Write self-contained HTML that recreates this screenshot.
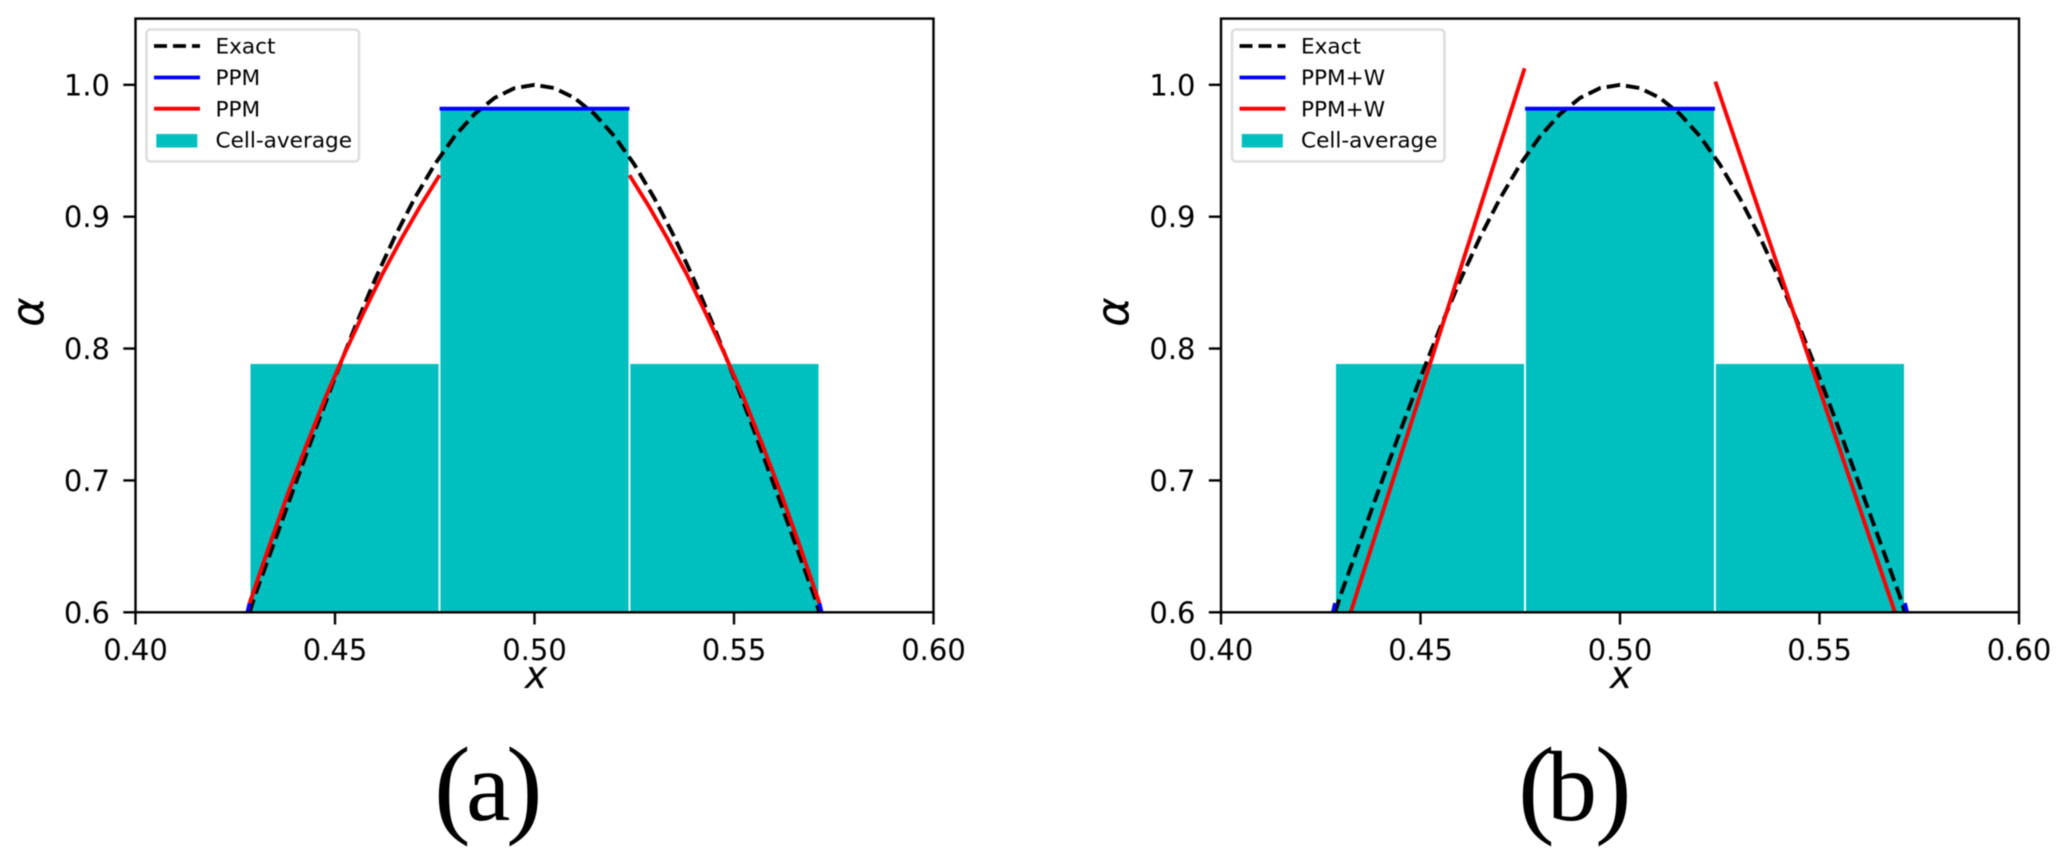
<!DOCTYPE html>
<html lang="en">
<head>
<meta charset="utf-8">
<title>PPM and PPM+W reconstruction comparison</title>
<style>
html,body{margin:0;padding:0;background:#fff;}
svg{display:block;filter:blur(0.5px);}
text{font-family:"DejaVu Sans","Liberation Sans",sans-serif;fill:#000;}
.tick-label{font-size:29px;}
.legend-label{font-size:21.6px;}
.axis-title{font-size:38px;font-style:italic;}
.alpha-title{font-size:45px;font-style:italic;}
.panel-label{font-family:"Liberation Serif",serif;}
</style>
</head>
<body>
<svg id="figure" xmlns="http://www.w3.org/2000/svg" width="2067" height="859" viewBox="0 0 2067 859">
  <rect x="0" y="0" width="2067" height="859" fill="#ffffff"/>
  <defs>
    <clipPath id="clip-a"><rect x="135.5" y="18.6" width="798" height="593.7"/></clipPath>
    <clipPath id="clip-b"><rect x="1221" y="18.6" width="798" height="593.7"/></clipPath>
  </defs>

  <g id="panel-a">
    <g id="marks-a" clip-path="url(#clip-a)"></g>
    <rect x="135.5" y="18.6" width="798" height="593.7" fill="none" stroke="#000" stroke-width="2.4"/>
    <g id="ticks-a"></g>
    <text class="axis-title" x="536" y="688" text-anchor="middle">x</text>
    <text class="alpha-title" transform="translate(43.5,312) rotate(-90)" text-anchor="middle">α</text>
    <g>
      <rect x="146.5" y="29.5" width="212.5" height="132" rx="4" fill="#fff" fill-opacity="0.8" stroke="#dedede" stroke-width="2.6"/>
      <line x1="154" y1="46" x2="200" y2="46" stroke="#000" stroke-width="3.8" stroke-dasharray="13 6"/>
      <text class="legend-label" x="215.5" y="53.5">Exact</text>
      <line x1="154" y1="77.5" x2="200" y2="77.5" stroke="#0000ff" stroke-width="3.8"/>
      <text class="legend-label" x="215.5" y="85">PPM</text>
      <line x1="154" y1="108.7" x2="200" y2="108.7" stroke="#ff0000" stroke-width="3.8"/>
      <text class="legend-label" x="215.5" y="116.3">PPM</text>
      <rect x="156.3" y="134" width="41" height="13.5" fill="#00bfbf"/>
      <text class="legend-label" x="215.5" y="147.5">Cell-average</text>
    </g>
    <text class="panel-label" y="820" font-size="100"><tspan font-size="110" x="434" y="823">(</tspan><tspan x="466" y="820">a</tspan><tspan font-size="110" x="506" y="823">)</tspan></text>
  </g>

  <g id="panel-b">
    <g id="marks-b" clip-path="url(#clip-b)"></g>
    <rect x="1221" y="18.6" width="798" height="593.7" fill="none" stroke="#000" stroke-width="2.4"/>
    <g id="ticks-b"></g>
    <text class="axis-title" x="1621" y="688" text-anchor="middle">x</text>
    <text class="alpha-title" transform="translate(1128.5,312) rotate(-90)" text-anchor="middle">α</text>
    <g>
      <rect x="1232" y="29.5" width="212.5" height="132" rx="4" fill="#fff" fill-opacity="0.8" stroke="#dedede" stroke-width="2.6"/>
      <line x1="1239.5" y1="46" x2="1285.5" y2="46" stroke="#000" stroke-width="3.8" stroke-dasharray="13 6"/>
      <text class="legend-label" x="1301" y="53.5">Exact</text>
      <line x1="1239.5" y1="77.5" x2="1285.5" y2="77.5" stroke="#0000ff" stroke-width="3.8"/>
      <text class="legend-label" x="1301" y="85">PPM+W</text>
      <line x1="1239.5" y1="108.7" x2="1285.5" y2="108.7" stroke="#ff0000" stroke-width="3.8"/>
      <text class="legend-label" x="1301" y="116.3">PPM+W</text>
      <rect x="1241.8" y="134" width="41" height="13.5" fill="#00bfbf"/>
      <text class="legend-label" x="1301" y="147.5">Cell-average</text>
    </g>
    <text class="panel-label" y="820" font-size="100"><tspan font-size="110" x="1518" y="823">(</tspan><tspan x="1547" y="820">b</tspan><tspan font-size="110" x="1595" y="823">)</tspan></text>
  </g>
</svg>

<script>
// Axis tick values and labels
var xTicks = [0.40, 0.45, 0.50, 0.55, 0.60];
var xTickLabels = ["0.40", "0.45", "0.50", "0.55", "0.60"];
var yTicks = [0.6, 0.7, 0.8, 0.9, 1.0];
var yTickLabels = ["0.6", "0.7", "0.8", "0.9", "1.0"];

// Cell-average bars (shared by both panels)
var cellLeft = [0.4286, 0.4762, 0.5238];
var cellRight = [0.4762, 0.5238, 0.5714];
var cellAverage = [0.789, 0.9819, 0.789];

// Exact profile
var exactX = [0.4286, 0.430, 0.435, 0.440, 0.445, 0.450, 0.455, 0.460, 0.465, 0.470, 0.475, 0.480, 0.485, 0.490, 0.495, 0.500, 0.505, 0.510, 0.515, 0.520, 0.525, 0.530, 0.535, 0.540, 0.545, 0.550, 0.555, 0.560, 0.565, 0.570, 0.5714];
var exactY = [0.6, 0.6133, 0.6549, 0.6967, 0.738, 0.7781, 0.8163, 0.8521, 0.8849, 0.9142, 0.9397, 0.9611, 0.9779, 0.9901, 0.9975, 1.0, 0.9975, 0.9901, 0.9779, 0.9611, 0.9397, 0.9142, 0.8849, 0.8521, 0.8163, 0.7781, 0.738, 0.6967, 0.6549, 0.6133, 0.6];

// Blue reconstruction pieces (centre cell plus small tails at the edges)
var blueCentreX = [0.4762, 0.5238];
var blueCentreY = [0.9819, 0.9819];
var blueLeftTailX = [0.4279, 0.4286];
var blueLeftTailY = [0.598, 0.607];
var blueRightTailX = [0.5714, 0.5721];
var blueRightTailY = [0.607, 0.598];

// Panel (a) red PPM pieces
var redLeftXA = [0.4286, 0.4334, 0.4381, 0.4429, 0.4476, 0.4524, 0.4572, 0.4619, 0.4667, 0.4714, 0.4762];
var redLeftYA = [0.607, 0.6492, 0.6892, 0.7271, 0.7628, 0.7962, 0.8275, 0.8566, 0.8835, 0.9082, 0.9315];
var redRightXA = [0.5238, 0.5286, 0.5333, 0.5381, 0.5428, 0.5476, 0.5524, 0.5571, 0.5619, 0.5666, 0.5714];
var redRightYA = [0.9315, 0.9082, 0.8835, 0.8566, 0.8275, 0.7962, 0.7628, 0.7271, 0.6892, 0.6492, 0.607];

// Panel (b) red PPM+W pieces
var redLeftXB = [0.4325, 0.4535, 0.4761];
var redLeftYB = [0.6, 0.7989, 1.0125];
var redRightXB = [0.5239, 0.5464, 0.5689];
var redRightYB = [1.0024, 0.8012, 0.6];

var SVG_NS = "http://www.w3.org/2000/svg";

function makeScaleX(pixelAt040, pixelPerUnit) {
  return function (v) { return pixelAt040 + (v - 0.40) * pixelPerUnit; };
}
function scaleY(v) { return 612.3 - (v - 0.6) * 1318.7; }

function drawSeries(parent, xs, ys, sx, color, dashed) {
  var pts = [];
  for (var i = 0; i < xs.length; i++) {
    pts.push(sx(xs[i]).toFixed(2) + "," + scaleY(ys[i]).toFixed(2));
  }
  var line = document.createElementNS(SVG_NS, "polyline");
  line.setAttribute("points", pts.join(" "));
  line.setAttribute("fill", "none");
  line.setAttribute("stroke", color);
  line.setAttribute("stroke-width", "3.9");
  if (dashed) { line.setAttribute("stroke-dasharray", "13.5 6"); }
  parent.appendChild(line);
  return line;
}

function drawBars(parent, sx) {
  for (var i = 0; i < cellAverage.length; i++) {
    var bar = document.createElementNS(SVG_NS, "rect");
    
    
    bar.setAttribute("x", sx(cellLeft[i]));
    bar.setAttribute("y", scaleY(cellAverage[i]));
    bar.setAttribute("width", sx(cellRight[i]) - sx(cellLeft[i]));
    bar.setAttribute("height", scaleY(0.6) - scaleY(cellAverage[i]) + 4);
    bar.setAttribute("fill", "#00bfbf");
    bar.setAttribute("stroke", "#ffffff");
    bar.setAttribute("stroke-width", "1.8");
    parent.appendChild(bar);
  }
}

function drawTicks(parent, sx, leftPixel) {
  for (var i = 0; i < xTicks.length; i++) {
    var tx = sx(xTicks[i]);
    var xMark = document.createElementNS(SVG_NS, "line");
    
    
    xMark.setAttribute("x1", tx);
    xMark.setAttribute("x2", tx);
    xMark.setAttribute("y1", 612.3);
    xMark.setAttribute("y2", 624.5);
    xMark.setAttribute("stroke", "#000");
    xMark.setAttribute("stroke-width", "2.4");
    parent.appendChild(xMark);
    var xText = document.createElementNS(SVG_NS, "text");
    
    
    xText.setAttribute("class", "tick-label");
    xText.setAttribute("x", tx);
    xText.setAttribute("y", 660);
    xText.setAttribute("text-anchor", "middle");
    xText.textContent = xTickLabels[i];
    parent.appendChild(xText);
  }
  for (var j = 0; j < yTicks.length; j++) {
    var ty = scaleY(yTicks[j]);
    var yMark = document.createElementNS(SVG_NS, "line");
    
    
    yMark.setAttribute("x1", leftPixel - 12.2);
    yMark.setAttribute("x2", leftPixel);
    yMark.setAttribute("y1", ty);
    yMark.setAttribute("y2", ty);
    yMark.setAttribute("stroke", "#000");
    yMark.setAttribute("stroke-width", "2.4");
    parent.appendChild(yMark);
    var yText = document.createElementNS(SVG_NS, "text");
    
    
    yText.setAttribute("class", "tick-label");
    yText.setAttribute("x", leftPixel - 25.5);
    yText.setAttribute("y", ty + 10.5);
    yText.setAttribute("text-anchor", "end");
    yText.textContent = yTickLabels[j];
    parent.appendChild(yText);
  }
}

function drawCommon(marks, sx) {
  drawBars(marks, sx);
  var exact = drawSeries(marks, exactX, exactY, sx, "#000000", true);
  
  
  var blueCentre = drawSeries(marks, blueCentreX, blueCentreY, sx, "#0000ff", false);
  
  
  var blueLeft = drawSeries(marks, blueLeftTailX, blueLeftTailY, sx, "#0000ff", false);
  
  
  var blueRight = drawSeries(marks, blueRightTailX, blueRightTailY, sx, "#0000ff", false);
  
  
}

var sxA = makeScaleX(135.5, 3990);
var sxB = makeScaleX(1221, 3990);
var marksA = document.getElementById("marks-a");
var marksB = document.getElementById("marks-b");

drawCommon(marksA, sxA);
var redLeftA = drawSeries(marksA, redLeftXA, redLeftYA, sxA, "#ff0000", false);


var redRightA = drawSeries(marksA, redRightXA, redRightYA, sxA, "#ff0000", false);



drawCommon(marksB, sxB);
var redLeftB = drawSeries(marksB, redLeftXB, redLeftYB, sxB, "#ff0000", false);


var redRightB = drawSeries(marksB, redRightXB, redRightYB, sxB, "#ff0000", false);



drawTicks(document.getElementById("ticks-a"), sxA, 135.5);
drawTicks(document.getElementById("ticks-b"), sxB, 1221);
</script>
</body>
</html>
